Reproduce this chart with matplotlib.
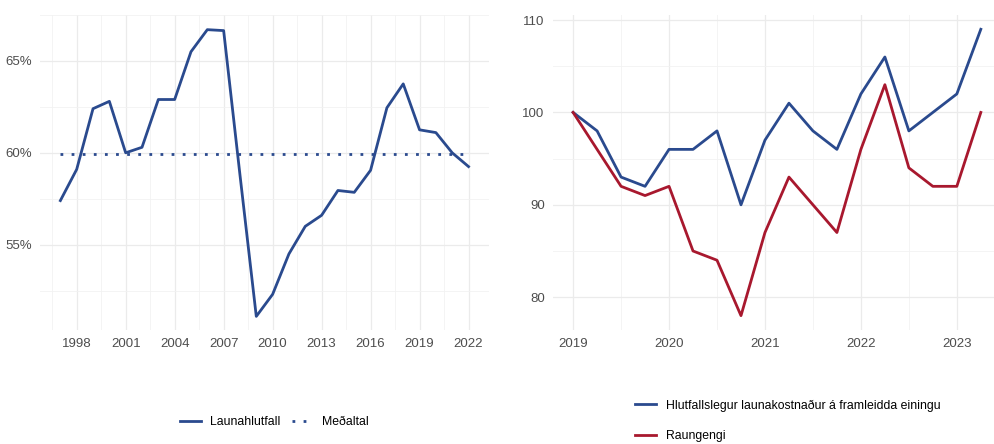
import numpy as np
import matplotlib
matplotlib.use("Agg")
import matplotlib.pyplot as plt
from matplotlib.ticker import MultipleLocator, FuncFormatter

plt.rcParams['font.family'] = ['Liberation Sans', 'DejaVu Sans']

# vinstri mynd: launahlutfall
ar = list(range(1997, 2023))
launahlutfall = [57.4, 59.1, 62.4, 62.8, 60.0, 60.3, 62.9, 62.9, 65.5, 66.7,
                 66.65, 58.8, 51.1, 52.3, 54.5, 56.0, 56.6, 57.95, 57.85, 59.05,
                 62.45, 63.75, 61.25, 61.1, 60.0, 59.25]

# haegri mynd: ársfjórðungar 2019Q1 - 2023Q2
fjordungar = [2019 + i * 0.25 for i in range(18)]
launakostn = [100, 98, 93, 92, 96, 96, 98, 90, 97, 101, 98, 96, 102, 106, 98, 100, 102, 109]
raungengi = [100, 96, 92, 91, 92, 85, 84, 78, 87, 93, 90, 87, 96, 103, 94, 92, 92, 100]

blar = '#2a4a8e'
raudur = '#a8182e'
grid_col = '#ebebeb'
txt_col = '#4d4d4d'

fig = plt.figure(figsize=(9.94, 4.44), dpi=100)
ax1 = fig.add_axes([0.0402, 0.2568, 0.4517, 0.7095])
ax2 = fig.add_axes([0.5563, 0.2568, 0.4507, 0.7095])

for ax in (ax1, ax2):
    for s in ax.spines.values():
        s.set_visible(False)
    ax.tick_params(length=0, labelsize=9.5, labelcolor=txt_col, pad=6)
    ax.grid(True, which='major', color=grid_col, lw=0.9)
    ax.grid(True, which='minor', color='#f2f2f2', lw=0.6)
    ax.tick_params(which='minor', length=0)
    ax.set_axisbelow(True)

# vinstri
ax1.plot(ar, launahlutfall, color=blar, lw=2.0, label='Launahlutfall')
medaltal = np.mean(launahlutfall)
ax1.plot([ar[0], ar[-1]], [medaltal, medaltal], color=blar, lw=2.0,
         linestyle=(0, (1, 3)), label='Meðaltal')
ax1.set_xlim(1995.75, 2023.25)
ax1.set_ylim(50.36, 67.5)
ax1.xaxis.set_major_locator(MultipleLocator(3))
ax1.xaxis.set_minor_locator(MultipleLocator(1.5))
ax1.yaxis.set_major_locator(MultipleLocator(5))
ax1.yaxis.set_minor_locator(MultipleLocator(2.5))
ax1.yaxis.set_major_formatter(FuncFormatter(lambda v, p: f'{v:.0f}%'))

# haegri
ax2.plot(fjordungar, launakostn, color=blar, lw=2.0,
         label='Hlutfallslegur launakostnaður á framleidda einingu')
ax2.plot(fjordungar, raungengi, color=raudur, lw=2.0, label='Raungengi')
ax2.set_xlim(2018.79, 2023.46)
ax2.set_ylim(76.45, 110.55)
ax2.xaxis.set_major_locator(MultipleLocator(1))
ax2.xaxis.set_minor_locator(MultipleLocator(0.5))
ax2.yaxis.set_major_locator(MultipleLocator(10))
ax2.yaxis.set_minor_locator(MultipleLocator(5))
ax2.xaxis.set_major_formatter(FuncFormatter(lambda v, p: f'{v:.0f}'))

leg_font = {'family': ['Liberation Sans Narrow', 'Liberation Sans'], 'size': 8.8}
h1, l1 = ax1.get_legend_handles_labels()
fig.legend(h1, l1, loc='center', bbox_to_anchor=(0.276, 0.049), ncol=2,
           frameon=False, prop=leg_font, handlelength=1.7, handletextpad=0.8,
           columnspacing=0.9, labelcolor='black')
h2, l2 = ax2.get_legend_handles_labels()
fig.legend(h2, l2, loc='upper left', bbox_to_anchor=(0.628, 0.125), ncol=1,
           frameon=False, prop=leg_font, handlelength=1.7, handletextpad=0.8,
           labelspacing=1.5, labelcolor='black')

fig.savefig('out.png', dpi=100)
